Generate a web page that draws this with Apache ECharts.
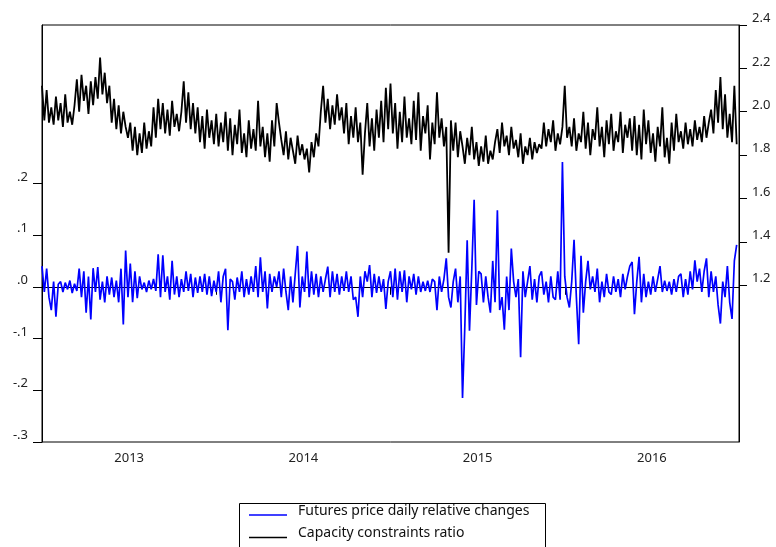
<!DOCTYPE html>
<html>
<head>
<meta charset="utf-8">
<script src="https://cdn.jsdelivr.net/npm/echarts@6/dist/echarts.min.js"></script>
<style>html,body{margin:0;padding:0;background:#fff}#c{width:776px;height:547px}</style>
</head>
<body>
<div id="c"></div>
<script>
// ---- data ----
const years = [2013, 2014, 2015, 2016];
const yearLabels = ['2013', '2014', '2015', '2016'];
const leftTicks = [-0.3, -0.2, -0.1, 0.0, 0.1, 0.2];
const rightTicks = [1.2, 1.4, 1.6, 1.8, 2.0, 2.2, 2.4];
const seriesNames = ['Futures price daily relative changes', 'Capacity constraints ratio'];
const seriesColors = ['#0000ff', '#000000'];

// Capacity constraints ratio (right axis), ~75 samples per year
const cap2013 = [2.12,1.96,2.10,1.95,
  2.02,1.94,2.07,1.96,2.04,1.93,2.08,1.95,2.00,1.94,
  2.03,2.15,2.00,2.17,2.05,2.12,1.99,2.14,2.03,2.16,2.06,2.25,2.08,2.18,2.04,
  2.12,1.95,2.06,1.92,2.03,1.90,2.00,1.93,1.88,
  1.95,1.82,1.93,1.80,1.90,1.81,1.95,1.83,1.91,1.84,
  2.02,1.88,2.06,1.92,
  2.04,1.90,2.01,1.89,2.05,1.93,1.99,1.91,
  2.00,2.14,1.95,2.09,1.92,2.04,1.90,
  2.02,1.86,1.98,1.83,2.01,1.88,1.96,1.85];
const cap2014 = [1.99,1.84,1.95,1.86,
  2.00,1.82,1.97,1.80,1.94,1.85,2.01,1.81,1.90,1.79,1.96,1.83,1.92,1.82,
  2.05,1.84,1.93,1.79,1.90,1.77,1.96,1.84,2.04,
  1.95,1.87,1.80,1.91,1.78,1.88,1.82,1.76,1.89,1.80,1.85,1.78,1.83,1.72,1.86,1.79,1.90,1.84,
  2.00,2.12,1.95,2.06,1.92,2.03,1.94,2.08,1.96,2.02,
  1.90,2.04,1.85,1.98,1.88,2.02,1.86,1.95,1.71,
  1.90,2.04,1.84,1.97,1.82,2.01,1.88,2.05,1.86,2.11,1.92];
const cap2015 = [2.13,1.90,2.04,1.83,2.00,1.86,2.07,1.88,1.97,1.85,
  2.05,1.87,2.09,1.82,1.98,1.90,2.03,1.78,1.95,1.85,2.09,1.88,1.97,1.84,
  1.93,1.35,1.96,
  1.82,1.95,1.79,1.91,1.84,1.76,1.88,1.80,1.93,1.78,1.86,1.75,1.84,1.77,1.89,1.76,1.82,1.78,
  1.86,1.92,1.81,1.95,1.84,1.89,1.80,1.93,1.83,
  1.87,1.79,1.90,1.76,1.84,1.80,1.88,1.78,1.86,1.81,1.85,1.83,
  1.95,1.84,1.92,1.86,1.96,1.82,1.90,1.85,1.93];
const cap2016 = [2.12,1.88,1.93,
  1.84,1.97,1.82,1.90,1.86,2.00,1.83,1.95,1.80,1.92,1.87,2.02,1.84,1.93,1.79,1.96,1.85,1.99,1.82,1.91,1.86,2.00,1.81,1.94,1.88,1.97,1.82,
  1.98,1.80,1.94,1.78,2.01,1.85,1.96,1.81,1.90,1.77,1.93,1.84,2.02,1.79,1.88,1.76,
  1.95,1.82,1.99,1.86,1.91,1.83,1.95,1.85,1.92,1.84,1.96,1.87,1.93,1.86,1.98,1.88,1.95,
  2.01,1.90,2.10,1.95,2.16,1.92,2.08,1.88,1.99,1.86,2.12,1.85];

// Futures price daily relative changes (left axis)
const fut2013 = [0.04,-0.01,0.035,-0.02,-0.045,0.01,-0.058,0.005,
  0.01,-0.01,0.008,-0.005,0.012,-0.012,0.006,-0.008,
  0.035,-0.02,0.03,-0.05,0.02,-0.063,0.036,
  -0.01,0.038,-0.025,0.01,-0.03,0.02,-0.015,0.018,-0.02,0.012,-0.03,
  0.035,-0.073,0.07,-0.02,
  0.045,-0.03,0.03,-0.022,0.02,-0.005,
  0.008,-0.01,0.012,-0.005,0.015,-0.008,0.063,
  -0.02,0.061,-0.01,0.02,-0.025,0.05,-0.015,0.02,-0.02,
  0.015,-0.01,0.03,-0.008,0.025,-0.02,0.018,-0.012,0.02,-0.01,0.025,-0.015,0.02,-0.018,0.012];
const fut2014 = [-0.01,0.03,-0.03,0.02,0.035,-0.084,0.015,0.01,-0.025,0.018,
  -0.01,0.03,-0.02,0.015,-0.015,0.02,-0.01,0.04,-0.02,
  0.057,-0.01,0.03,-0.042,0.025,-0.01,0.02,0.0,
  0.03,-0.02,0.035,-0.01,-0.045,0.02,-0.03,0.025,
  0.079,-0.04,0.02,-0.01,0.068,-0.02,
  0.03,-0.015,0.025,-0.02,0.02,-0.01,0.015,0.039,
  -0.02,0.03,-0.01,0.025,-0.015,0.02,-0.008,0.03,-0.01,0.02,-0.025,
  -0.02,-0.058,0.02,-0.02,0.03,0.01,0.042,
  -0.02,0.025,-0.012,0.02,-0.01,0.015,-0.043,0.01];
const fut2015 = [0.03,-0.02,0.035,-0.025,0.03,-0.01,0.032,-0.03,0.02,-0.005,0.025,-0.015,0.02,-0.01,0.01,-0.008,0.012,-0.01,0.015,0.01,
  -0.045,0.02,-0.01,0.015,0.055,-0.02,-0.04,0.01,0.035,-0.03,0.02,
  -0.215,-0.075,0.09,-0.085,0.035,0.168,-0.035,0.03,0.025,
  -0.03,0.02,-0.02,-0.05,0.05,-0.03,0.148,-0.045,-0.02,-0.083,
  0.02,-0.045,0.074,0.01,-0.02,0.015,-0.136,
  0.03,-0.02,0.01,0.04,-0.025,0.015,-0.03,0.02,0.03,-0.015,
  0.01,-0.03,0.02,-0.02,-0.025,0.03,-0.025,0.241];
const fut2016 = [0.02,-0.02,-0.04,0.01,0.091,-0.02,-0.111,0.06,-0.05,0.01,
  0.05,-0.005,0.02,-0.01,0.035,-0.03,0.01,-0.02,0.025,-0.01,
  -0.015,0.02,-0.01,0.015,-0.02,0.025,-0.005,0.02,0.04,0.048,
  -0.053,0.01,0.058,-0.03,0.025,-0.02,0.01,-0.015,0.02,-0.01,
  0.015,0.04,-0.01,0.012,-0.008,0.01,-0.015,0.015,-0.01,0.02,
  0.025,-0.02,0.015,-0.015,0.03,-0.005,0.051,0.01,0.035,-0.01,
  0.03,0.055,-0.02,0.03,-0.01,0.02,-0.035,-0.071,0.01,-0.02,
  0.04,-0.03,-0.062,0.05,0.081];

// ---- build ----
function build(perYear) {
  const out = [];
  perYear.forEach((arr, k) => {
    arr.forEach((v, i) => out.push([years[k] + i / arr.length, v]));
  });
  return out;
}
const capData = build([cap2013, cap2014, cap2015, cap2016]);
const futData = build([fut2013, fut2014, fut2015, fut2016]);

const FONT = 'Noto Sans';

// legend drawn as graphic elements (box runs off the bottom edge like the reference)
const legendGraphic = [{type: 'rect', left: 237, top: 501, shape: {width: 306, height: 70},
  style: {fill: 'none', stroke: '#000', lineWidth: 1}, silent: true}];
seriesNames.forEach((name, k) => {
  const yLine = 515 + k * 22.5;
  legendGraphic.push({type: 'line', shape: {x1: 249, y1: yLine, x2: 287, y2: yLine},
    style: {stroke: seriesColors[k], lineWidth: 1.5}, silent: true});
  legendGraphic.push({type: 'text', x: 298, y: yLine - 4,
    style: {text: name, fill: '#111', font: '14px "' + FONT + '"', textVerticalAlign: 'middle', verticalAlign: 'middle'}, silent: true});
});

const chart = echarts.init(document.getElementById('c'), null, {renderer: 'canvas'});
chart.setOption({
  animation: false,
  backgroundColor: '#fff',
  grid: {left: 42, right: 37, top: 25, bottom: 105, show: true, borderColor: '#000', borderWidth: 1},
  graphic: legendGraphic,
  xAxis: {
    type: 'value', min: years[0], max: years[years.length - 1] + 1,
    axisLine: {lineStyle: {color: '#000', width: 1}},
    axisTick: {show: true, length: 8, lineStyle: {color: '#000'}, customValues: [2013, 2014, 2015, 2016, 2017]},
    axisLabel: {customValues: years.map(y => y + 0.5), formatter: v => yearLabels[Math.floor(v) - years[0]],
      fontFamily: FONT, fontSize: 13, color: '#222', margin: 10},
    splitLine: {show: false}
  },
  yAxis: [{
    type: 'value', position: 'left', min: -0.3, max: 0.506,
    axisLine: {show: true, lineStyle: {color: '#000'}},
    axisTick: {show: true, length: 9, lineStyle: {color: '#000'}, customValues: leftTicks},
    axisLabel: {customValues: leftTicks, verticalAlign: 'bottom', margin: 14,
      formatter: v => { const s = Math.abs(v).toFixed(1).replace(/^0/, ''); return (v < -1e-9 ? '-' : '') + s; },
      fontFamily: FONT, fontSize: 13, color: '#222'},
    splitLine: {show: false}
  }, {
    type: 'value', position: 'right', min: 0.477, max: 2.4,
    axisLine: {show: true, lineStyle: {color: '#000'}},
    axisTick: {show: true, length: 8, lineStyle: {color: '#000'}, customValues: rightTicks},
    axisLabel: {customValues: rightTicks, verticalAlign: 'bottom', margin: 13,
      formatter: v => v.toFixed(1), fontFamily: FONT, fontSize: 13, color: '#222'},
    splitLine: {show: false}
  }],
  series: [{
    name: seriesNames[0], type: 'line', yAxisIndex: 0, data: futData, symbol: 'none',
    lineStyle: {color: seriesColors[0], width: 1.7}, itemStyle: {color: seriesColors[0]}, z: 3
  }, {
    name: seriesNames[1], type: 'line', yAxisIndex: 1, data: capData, symbol: 'none',
    lineStyle: {color: seriesColors[1], width: 1.8}, itemStyle: {color: seriesColors[1]}, z: 2
  }]
});
</script>
</body>
</html>
